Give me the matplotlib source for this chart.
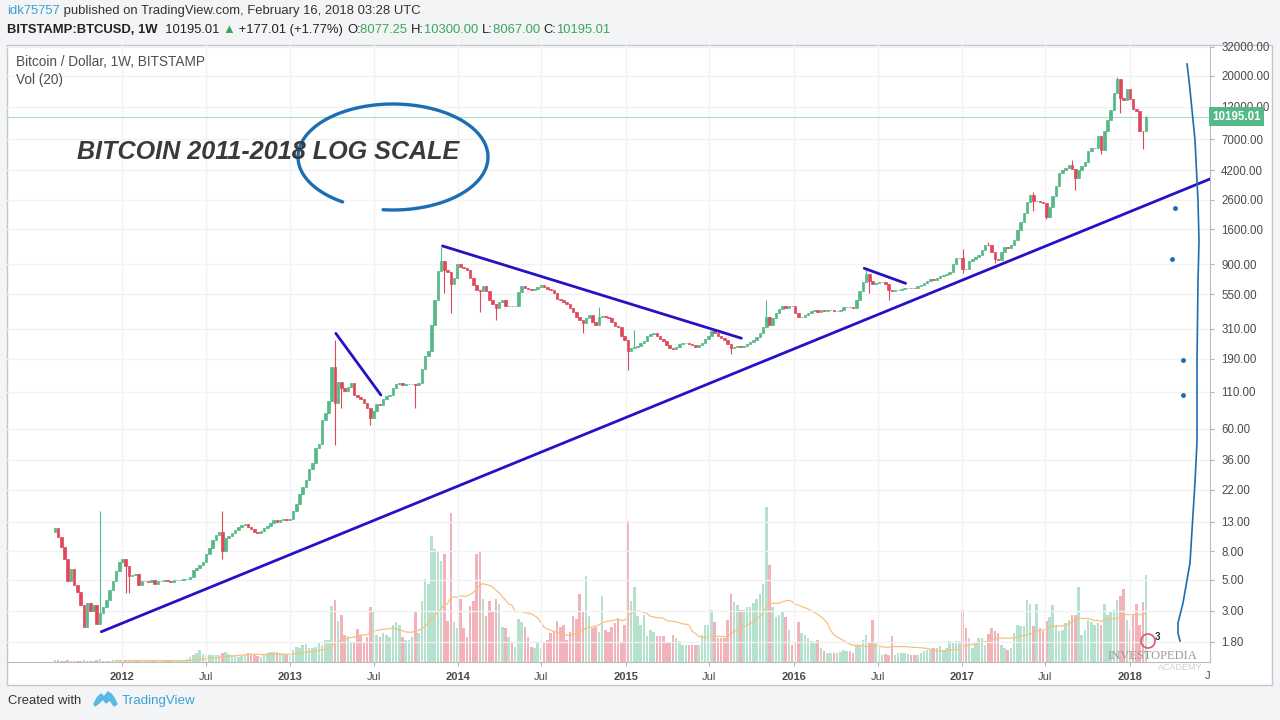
import numpy as np
import pandas as pd
import matplotlib
matplotlib.use('Agg')
import matplotlib.pyplot as plt
import matplotlib.dates as mdates
from matplotlib.ticker import NullLocator, FixedLocator

# ---- weekly BTC/USD (Bitstamp) candles ----
first_week = '2011-08-08'
first_open = 11.0
closes = [
    # 2011
    11.7, 10.1, 8.6, 7.0, 4.9, 6.0, 4.6, 4.1, 3.3, 2.3, 3.4, 3.0, 3.3, 2.4, 2.9, 3.2, 3.6, 4.2, 4.9, 5.8, 6.7,
    # 2012
    7.1, 6.3, 5.3, 5.4, 5.5, 4.6, 4.9, 4.9, 4.8, 5.0, 4.7, 4.9, 4.9, 5.0, 4.9, 4.8, 5.0, 5.0, 5.0, 5.1,
    5.1, 5.2, 5.9, 6.1, 6.4, 6.7, 7.6, 8.5, 9.6, 10.5, 10.9, 8.0, 10.0, 10.2, 10.8, 11.3, 11.9, 12.4, 12.5, 12.0,
    11.5, 11.0, 10.8, 11.2, 11.7, 12.2, 12.8, 13.4, 13.0, 13.4, 13.5, 13.4,
    # 2013
    13.5, 15.5, 17.5, 20.5, 23, 26, 31, 34, 44, 47, 69, 78, 95, 167, 91, 130, 117, 112, 120, 128,
    105, 101, 98, 92, 85, 72, 80, 90, 88, 98, 103, 104, 117, 125, 128, 124, 125, 126, 126, 124,
    128, 160, 200, 215, 330, 500, 800, 950, 820, 790, 650, 720,
    # 2014
    900, 860, 840, 820, 720, 640, 590, 575, 630, 580, 500, 470, 440, 480, 500, 450, 455, 450, 455, 570,
    630, 610, 600, 590, 600, 620, 640, 620, 600, 590, 560, 510, 495, 480, 470, 440, 410, 380, 360, 340,
    370, 390, 350, 330, 380, 385, 380, 370, 345, 325, 320, 275,
    # 2015
    258, 215, 225, 232, 235, 245, 255, 275, 285, 290, 278, 262, 255, 238, 228, 222, 232, 240, 244, 244,
    240, 236, 230, 236, 246, 262, 278, 300, 290, 278, 265, 258, 240, 225, 232, 235, 232, 234, 240, 248,
    260, 272, 290, 320, 380, 330, 370, 400, 430, 450, 440, 455,
    # 2016
    450, 400, 375, 380, 390, 405, 415, 425, 410, 420, 418, 420, 420, 415, 418, 420, 445, 448, 445, 435,
    500, 580, 670, 760, 680, 650, 660, 670, 672, 650, 590, 575, 585, 590, 600, 605, 610, 608, 605, 625,
    640, 660, 680, 700, 695, 715, 735, 755, 760, 785, 900, 990,
    # 2017
    1000, 830, 825, 950, 975, 1010, 1050, 1130, 1240, 1230, 1100, 980, 970, 1100, 1200, 1180, 1230, 1330, 1580, 1800,
    2100, 2500, 2800, 2550, 2550, 2500, 2450, 1950, 2300, 2750, 3250, 4000, 4200, 4400, 4600, 4300, 3700, 4200, 4500, 4800,
    5800, 6100, 6100, 7400, 5900, 8000, 9700, 11300, 15000, 19000, 13800, 13400,
    # 2018
    16100, 13700, 11500, 11200, 8100, 8077.25, 10195.01,
]
wick_high = {14: 15.5, 52: 15.6, 87: 258, 120: 1200, 169: 447, 180: 305, 221: 500, 252: 820,
             282: 1150, 290: 1300, 304: 2950, 316: 4990, 330: 19600, 339: 10300}
wick_low = {22: 4.0, 23: 4.0, 52: 7.0, 87: 46, 89: 84, 98: 64, 112: 84, 121: 560, 123: 400,
            132: 410, 137: 360, 164: 288, 178: 158, 210: 205, 253: 560, 259: 500, 282: 773,
            292: 920, 304: 2150, 308: 1880, 317: 3050, 325: 5500, 331: 10800, 338: 6000, 339: 8067}
volumes = [
    2, 2, 1, 1, 2, 1, 1, 1, 1, 2, 1, 1, 1, 2, 3, 1, 1, 1, 2, 2, 2,
    2, 2, 2, 1, 1, 2, 1, 1, 1, 1, 1, 1, 1, 1, 1, 1, 1, 1, 1, 2, 3, 5, 7, 9, 12, 8, 7, 7, 7, 7,
    7, 9, 10, 8, 7, 7, 5, 6, 7, 9, 8, 7, 6, 5, 7, 9, 10, 10, 10, 9, 8, 7,
    7, 12, 15, 14, 17, 18, 14, 14, 15, 20, 17, 22, 22, 55, 61, 40, 46, 27, 26, 19,
    20, 33, 27, 20, 25, 54, 49, 27, 25, 29, 27, 25, 37, 39, 37, 25, 22, 22, 25, 50,
    29, 60, 82, 77, 124, 112, 109, 100, 107, 40, 147, 39,
    34, 62, 34, 25, 55, 60, 107, 110, 62, 45, 60, 50, 62, 57, 35, 34, 25, 20, 15, 42,
    39, 35, 25, 15, 14, 19, 14, 19, 22, 29, 30, 40, 35, 37, 22, 30, 45, 42, 67, 50,
    85, 45, 34, 35, 30, 65, 32, 30, 35, 38, 43, 19,
    37, 139, 60, 74, 45, 37, 46, 26, 32, 30, 26, 26, 26, 19, 19, 27, 24, 21, 17, 17,
    17, 17, 17, 17, 27, 37, 37, 51, 39, 24, 24, 24, 41, 67, 59, 56, 51, 51, 54, 54,
    58, 62, 67, 77, 153, 96, 54, 44, 46, 49, 44, 32,
    17, 19, 39, 29, 27, 24, 21, 19, 22, 14, 11, 9, 9, 9, 9, 10, 12, 11, 11, 9,
    17, 17, 22, 27, 19, 41, 19, 16, 7, 8, 7, 26, 7, 9, 9, 9, 8, 7, 7, 7,
    9, 11, 12, 13, 14, 14, 16, 12, 14, 21, 20, 21,
    21, 51, 34, 24, 14, 20, 24, 24, 17, 28, 34, 31, 29, 17, 14, 12, 14, 29, 37, 36,
    36, 61, 57, 36, 57, 34, 31, 40, 44, 56, 37, 31, 32, 38, 41, 46, 46, 74, 27, 32,
    41, 39, 37, 38, 37, 57, 46, 49, 51, 61, 65, 72,
    41, 32, 46, 57, 37, 59, 86,
]

price_ticks = [1.8, 3, 5, 8, 13, 22, 36, 60, 110, 190, 310, 550, 900, 1600, 2600, 4200, 7000, 12000, 20000, 32000]
time_ticks = ['2012-01-01', '2012-07-01', '2013-01-01', '2013-07-01', '2014-01-01', '2014-07-01',
              '2015-01-01', '2015-07-01', '2016-01-01', '2016-07-01', '2017-01-01', '2017-07-01', '2018-01-01']
time_labels = ['2012', 'Jul', '2013', 'Jul', '2014', 'Jul', '2015', 'Jul', '2016', 'Jul', '2017', 'Jul', '2018']

# hand-drawn trend lines (date, price)
trend_main = (['2011-11-17', '2018-06-24'], [2.13, 3650])
trend_2013 = (['2013-04-10', '2013-07-17'], [288, 104.5])
trend_2014 = (['2013-11-28', '2015-09-09'], [1213, 266])
trend_2016 = (['2016-06-02', '2016-08-31'], [840, 656])

UP, DOWN = '#53b987', '#e0485a'
LINE_BLUE = '#2412c4'
PEN_BLUE = '#1d6db3'

plt.rcParams['font.family'] = ['Liberation Sans', 'DejaVu Sans']

df = pd.DataFrame({'date': pd.date_range(first_week, periods=len(closes), freq='7D'), 'close': closes, 'volume': volumes})
df['open'] = [first_open] + closes[:-1]
df['high'] = [wick_high.get(i, max(o, c)) for i, (o, c) in enumerate(zip(df['open'], df['close']))]
df['low'] = [wick_low.get(i, min(o, c)) for i, (o, c) in enumerate(zip(df['open'], df['close']))]
df['up'] = df['close'] >= df['open']
df['vol_ma'] = df['volume'].rolling(20).mean()
x = mdates.date2num(df['date'])
colors = np.where(df['up'], UP, DOWN)

W, H = 1280, 720
fig = plt.figure(figsize=(12.8, 7.2), dpi=100, facecolor='#f3f4f6')

# background box (pixel coords)
bg = fig.add_axes([0, 0, 1, 1], zorder=-5)
bg.set_xlim(0, W); bg.set_ylim(H, 0); bg.axis('off')
bg.add_patch(plt.Rectangle((7, 45), 1265, 640, facecolor='white', edgecolor='#c3c6cc', lw=1))

pos = [7 / W, 1 - 662 / H, 1203 / W, 617 / H]
axv = fig.add_axes(pos, zorder=1)
ax = fig.add_axes(pos, sharex=axv, zorder=2)
ax.patch.set_alpha(0)
axv.patch.set_alpha(0)

# volume
axv.bar(x, df['volume'], width=5.5, color=colors, alpha=0.42, linewidth=0)
axv.plot(x, df['vol_ma'], color='#f5c27e', lw=0.9)
axv.set_ylim(0, max(volumes) * 3.98)
axv.axis('off')

# candles
ax.set_yscale('log')
ax.vlines(x, df['low'], df['high'], colors=colors, lw=0.8, zorder=3)
bottoms = np.minimum(df['open'], df['close'])
heights = np.abs(df['close'] - df['open'])
ax.bar(x, heights, bottom=bottoms, width=5.5, color=colors, edgecolor=colors, linewidth=0.5, zorder=3)

ax.axhline(closes[-1], color='#a8dccb', lw=0.8, zorder=2)

for d, p in [trend_main, trend_2013, trend_2014, trend_2016]:
    ax.plot(mdates.date2num(pd.to_datetime(d)), p, color=LINE_BLUE, lw=2, zorder=4, solid_capstyle='round')

ax.set_ylim(10 ** (4.505 - 615 / 140), 10 ** (4.505 + 2 / 140))
ax.set_xlim(mdates.date2num(pd.Timestamp('2012-01-01')) - 115 / 0.45985,
            mdates.date2num(pd.Timestamp('2018-01-01')) + 80 / 0.45985)

ax.yaxis.tick_right()
ax.yaxis.set_major_locator(FixedLocator(price_ticks))
ax.yaxis.set_minor_locator(NullLocator())
ax.set_yticklabels(['%.2f' % t for t in price_ticks])
ax.set_xticks(mdates.date2num(pd.to_datetime(time_ticks)))
ax.set_xticklabels(time_labels)
for lbl in ax.get_xticklabels():
    if lbl.get_text() != 'Jul':
        lbl.set_fontweight('bold')
ax.tick_params(axis='y', length=3, pad=5, labelsize=8.3, colors='#b0b3b8', labelcolor='#4a4a4a')
ax.tick_params(axis='x', length=3, pad=4, labelsize=8, colors='#b0b3b8', labelcolor='#4a4a4a')
ax.grid(True, color='#f0f2f5', lw=1, zorder=0)
for s in ['top', 'left']:
    ax.spines[s].set_visible(False)
for s in ['right', 'bottom']:
    ax.spines[s].set_color('#b9bcc2')

ax.text(1.002, closes[-1], '%.2f' % closes[-1], transform=ax.get_yaxis_transform(), color='white',
        fontsize=8.3, fontweight='bold', va='center', ha='left',
        bbox=dict(boxstyle='square,pad=0.3', fc=UP, ec='none'), zorder=6, clip_on=False)

# foreground overlay in pixel coords
fg = fig.add_axes([0, 0, 1, 1], zorder=10)
fg.set_xlim(0, W); fg.set_ylim(H, 0); fg.axis('off'); fg.patch.set_alpha(0)
renderer = fig.canvas.get_renderer()


def pieces(x0, y0, parts, size):
    for txt, col, wt in parts:
        t = fg.text(x0, y0, txt, color=col, fontsize=size, fontweight=wt, va='center', ha='left')
        x0 += t.get_window_extent(renderer).width


G = '#3aa85a'
pieces(7, 11, [('idk75757', '#3ba3d0', 'normal'),
               (' published on TradingView.com, February 16, 2018 03:28 UTC', '#333333', 'normal')], 9.4)
pieces(7, 30, [('BITSTAMP:BTCUSD, 1W', '#222222', 'bold'), ('  10195.01 ', '#222222', 'normal'),
               ('▲', G, 'normal'), (' +177.01 (+1.77%) ', '#222222', 'normal'),
               ('O:', '#222222', 'normal'), ('8077.25 ', G, 'normal'),
               ('H:', '#222222', 'normal'), ('10300.00 ', G, 'normal'),
               ('L:', '#222222', 'normal'), ('8067.00 ', G, 'normal'),
               ('C:', '#222222', 'normal'), ('10195.01', G, 'normal')], 9.4)
pieces(16, 62, [('Bitcoin / Dollar, 1W, BITSTAMP', '#4f4f4f', 'normal')], 9.8)
pieces(16, 80, [('Vol (20)', '#4f4f4f', 'normal')], 9.8)
pieces(8, 701, [('Created with', '#333333', 'normal')], 9.4)
pieces(122, 701, [('TradingView', '#3ba3d0', 'normal')], 9.6)
fg.text(1208, 676, 'J', fontsize=8, color='#4a4a4a', ha='center', va='center')

# TradingView logo
lx = np.array([94, 97, 101, 104, 108, 111, 114, 117, 114, 110, 106, 103, 99, 95, 94])
ly = np.array([704, 698, 694, 697, 692, 694, 698, 704, 706, 700, 703, 699, 703, 706, 704])
fg.fill(lx, ly, color='#5bb7e3')

fg.text(77, 152, 'BITCOIN 2011-2018 LOG SCALE', fontsize=18.1, fontweight='bold', fontstyle='italic',
        color='#3a3a3a', va='center', ha='left')

# hand-drawn ellipse
t = np.radians(np.linspace(122, 456, 200))
fg.plot(393 + 95 * np.cos(t), 157 + 53 * np.sin(t), color=PEN_BLUE, lw=2.4, solid_capstyle='round')

# hand-drawn right stroke and dots
sx = [1187, 1189, 1195, 1198, 1199, 1198, 1197, 1197, 1195, 1190, 1183, 1178, 1178, 1180]
sy = [64, 80, 140, 201, 241, 281, 362, 442, 482, 563, 603, 623, 633, 641]
fg.plot(sx, sy, color=PEN_BLUE, lw=1.2)
fg.plot([1175, 1172, 1183, 1183], [208, 259, 360, 395], 'o', color=PEN_BLUE, ms=2.5)

# watermark
fg.text(1152, 656, 'INVESTOPEDIA', fontsize=9, family='Liberation Serif', color='#9a9a9a', ha='center', va='center')
fg.text(1180, 667, 'ACADEMY', fontsize=6.5, color='#d0d0d0', ha='center', va='center')
fg.add_patch(plt.Circle((1148, 641), 7, fill=False, ec='#e05a6a', lw=1.2))
fg.text(1157, 637, '3', fontsize=7, fontweight='bold', color='#333333', ha='center', va='center')

fig.savefig('out.png', dpi=100, facecolor=fig.get_facecolor())
